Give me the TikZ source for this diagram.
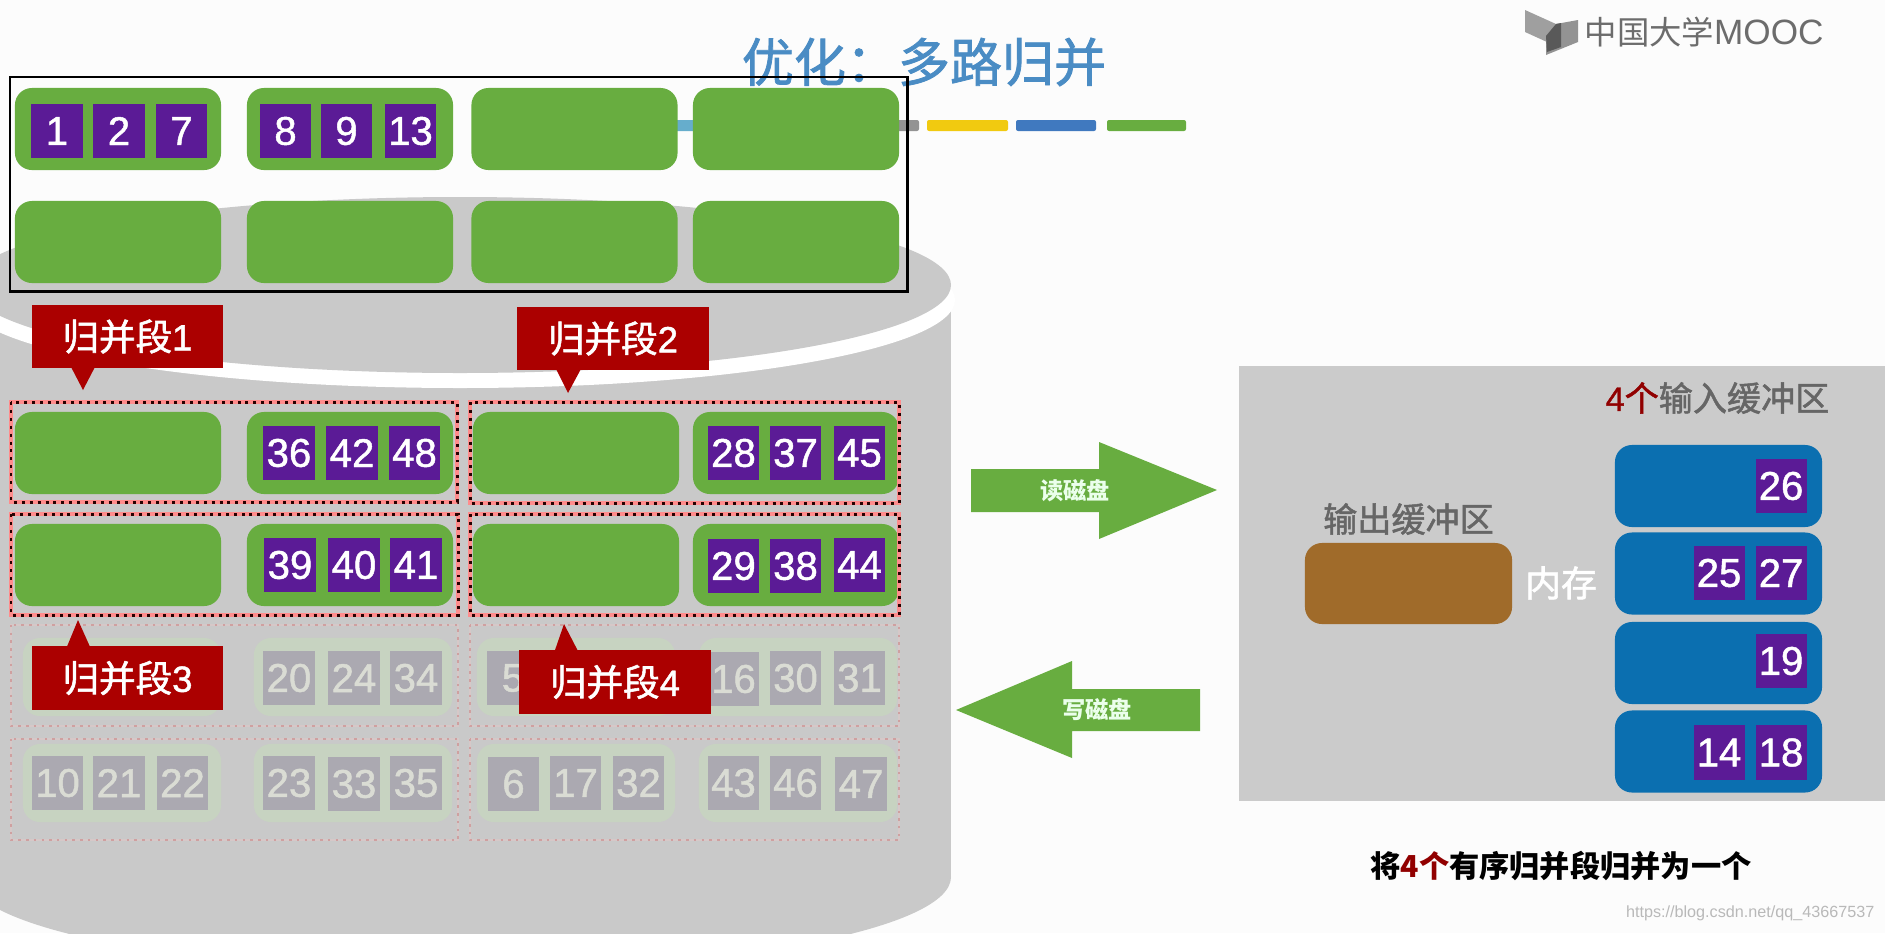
\documentclass[tikz,border=0pt]{standalone}
\usepackage{fontspec}
\setmainfont{Liberation Sans}
\newfontfamily\cjk{Noto Sans CJK SC}
\newfontfamily\cjkm[FakeBold=1.5]{Noto Sans CJK SC}
\newfontfamily\numf[FakeBold=1.2]{Liberation Sans}
\definecolor{diskgray}{HTML}{C9C9C9}
\definecolor{pgreen}{HTML}{68AD40}
\definecolor{ppurple}{HTML}{5B1B96}
\definecolor{fgreen}{HTML}{C7D3C1}
\definecolor{fsq}{HTML}{ABA9B1}
\definecolor{ftxt}{HTML}{DADCD4}
\definecolor{callred}{HTML}{AB0000}
\definecolor{memblue}{HTML}{0B6FB0}
\definecolor{brownbox}{HTML}{A06B2A}
\definecolor{titleblue}{HTML}{4A8CC4}
\definecolor{lblgray}{HTML}{666666}
\definecolor{fhalocol}{HTML}{D6C8C8}
\definecolor{fdotcol}{HTML}{CFA0A0}
\tikzset{
  gbox/.style={fill=pgreen,rounded corners=.17cm,minimum width=2.06cm,minimum height=.82cm,inner sep=0pt},
  fbox/.style={fill=fgreen,rounded corners=.17cm,minimum width=1.98cm,minimum height=.78cm,inner sep=0pt},
  bbox/.style={fill=memblue,rounded corners=.17cm,minimum width=2.07cm,minimum height=.82cm,inner sep=0pt},
  sqr/.style={fill=ppurple,text=white,minimum width=.51cm,minimum height=.54cm,inner sep=0pt,font=\numf\fontsize{11.4pt}{12pt}\selectfont},
  fsqr/.style={sqr,fill=fsq,text=ftxt},
  callout/.style={fill=callred,text=white,minimum width=1.91cm,minimum height=.63cm,inner sep=0pt,font=\numf\fontsize{10.4pt}{12pt}\selectfont},
  redhalo/.style={draw=red!45!white,line width=1.3pt},
  reddots/.style={draw=black!85!red,line width=.85pt,dash pattern=on .85pt off 1.4pt},
  fhalo/.style={draw=fhalocol,line width=.8pt},
  fdots/.style={draw=fdotcol,line width=.55pt,dash pattern=on .7pt off 1.5pt},
  lbl/.style={inner sep=0pt,text=lblgray,font=\cjkm\fontsize{9.7pt}{12pt}\selectfont},
  arrowtxt/.style={inner sep=0pt,text=white!92!green,font=\cjk\bfseries\fontsize{6.6pt}{8pt}\selectfont},
  smallbar/.style={rounded corners=.02cm}
}
\newcommand{\gb}[3]{\node[gbox] (#1) at (#2,#3) {};}
\newcommand{\fb}[3]{\node[fbox] (#1) at (#2,#3) {};}
\newcommand{\sq}[4]{\node[sqr] (#1) at (#2,#3) {#4};}
\newcommand{\fs}[4]{\node[fsqr] (#1) at (#2,#3) {#4};}
\newcommand{\dotbox}[4]{\draw[redhalo] (#1,#2) rectangle (#3,#4);\draw[reddots] (#1,#2) rectangle (#3,#4);}
\newcommand{\fdotbox}[4]{\draw[fhalo] (#1,#2) rectangle (#3,#4);\draw[fdots] (#1,#2) rectangle (#3,#4);}
\begin{document}
\begin{tikzpicture}[x=.01cm,y=-.01cm]
\useasboundingbox (0,0) rectangle (1885,933);
\clip (0,0) rectangle (1885,933);
\fill[white!99!black] (0,0) rectangle (1885,933);
% disk
\fill[diskgray] (-31,300) rectangle (951,877);
\fill[diskgray] (460,877) ellipse[x radius=491,y radius=94];
\fill[white] (460,300) ellipse[x radius=495,y radius=88];
\fill[diskgray] (460,285) ellipse[x radius=491,y radius=88];
% title and bars
\node[inner sep=0pt,text=titleblue,font=\cjkm\fontsize{14.8pt}{16pt}\selectfont] (title) at (924,62) {优化：多路归并};
\fill[smallbar,fill=blue!30!cyan!50!gray!80!white] (665,120) rectangle (705,131);
\fill[smallbar,fill=gray!85] (885,120) rectangle (919,131);
\fill[smallbar,fill=yellow!70!orange!95!black] (927,120) rectangle (1008,131);
\fill[smallbar,fill=blue!55!cyan!50!gray] (1016,120) rectangle (1096,131);
\fill[smallbar,fill=pgreen] (1107,120) rectangle (1186,131);
% logo
\fill[gray!75] (1525,10) -- (1556,24) -- (1547,42) -- (1525,32) -- cycle;
\fill[gray!85] (1578,20) -- (1578,42) -- (1546,55) -- (1546,36) -- (1556,24) -- cycle;
\fill[gray!70!black] (1556,24) -- (1561,23) -- (1561,47) -- (1547,52) -- (1546,36) -- cycle;
\node[inner sep=0pt,anchor=west,text=gray!85!black,font=\fontsize{10pt}{12pt}\selectfont] (logo) at (1584,32) {{\cjk\fontsize{9.2pt}{12pt}\selectfont 中国大学}MOOC};
% rows 1,2
\gb{a1}{118}{129}\gb{a2}{350}{129}\gb{a3}{574.5}{129}\gb{a4}{796}{129}
\gb{b1}{118}{242}\gb{b2}{350}{242}\gb{b3}{574.5}{242}\gb{b4}{796}{242}
\sq{s1}{57}{131}{1}\sq{s2}{119}{131}{2}\sq{s7}{181.5}{131}{7}
\sq{s8}{285.5}{131}{8}\sq{s9}{346.5}{131}{9}\sq{s13}{410.5}{131}{13}
\draw[black,line width=.85pt] (10,77) rectangle (907,291);
% rows 3,4
\gb{c1}{118}{453}\gb{c2}{350}{453}\gb{c3}{576}{453}\gb{c4}{796}{453}
\gb{d1}{118}{565}\gb{d2}{350}{565}\gb{d3}{576}{565}\gb{d4}{796}{565}
\sq{s36}{289}{453}{36}\sq{s42}{352}{453}{42}\sq{s48}{414.5}{453}{48}
\sq{s28}{733.5}{453}{28}\sq{s37}{795.5}{453}{37}\sq{s45}{859.5}{453}{45}
\sq{s39}{290}{565}{39}\sq{s40}{354}{565}{40}\sq{s41}{416}{565}{41}
\sq{s29}{733.5}{566}{29}\sq{s38}{795.5}{566}{38}\sq{s44}{859.5}{565}{44}
% faded rows
\fb{e1}{122}{677}\fb{e2}{353}{677}\fb{e3}{576}{677}\fb{e4}{798}{677}
\fb{f1}{122}{783}\fb{f2}{353}{783}\fb{f3}{576}{783}\fb{f4}{798}{783}
\fs{s20}{289}{678}{20}\fs{s24}{354}{678}{24}\fs{s34}{416}{678}{34}
\fs{s5}{513}{678}{5}\fs{s16}{733.5}{679}{16}\fs{s30}{795.5}{678}{30}\fs{s31}{859.5}{678}{31}
\fs{s10}{57.5}{783}{10}\fs{s21}{119}{783}{21}\fs{s22}{182.5}{783}{22}
\fs{s23}{289}{783}{23}\fs{s33}{354}{784}{33}\fs{s35}{416}{783}{35}
\fs{s6}{513.5}{784}{6}\fs{s17}{575.5}{783}{17}\fs{s32}{638.5}{783}{32}
\fs{s43}{733.5}{783}{43}\fs{s46}{795.5}{783}{46}\fs{s47}{861}{784}{47}
% dotted outlines
\fdotbox{11}{625}{458}{726}\fdotbox{470}{625}{899}{726}
\fdotbox{11}{739}{458}{840}\fdotbox{470}{739}{899}{840}
\dotbox{11}{402}{457}{502}\dotbox{470}{402}{899}{503}
\dotbox{11}{514}{458}{615}\dotbox{470}{514}{899}{615}
% callouts
\fill[callred] (70,365) -- (83,390) -- (96,365) -- cycle;
\node[callout] (c1txt) at (127.5,336.5) {{\cjkm 归并段}1};
\fill[callred] (555,367) -- (568,393) -- (582,367) -- cycle;
\node[callout] (c2txt) at (613,338.5) {{\cjkm 归并段}2};
\fill[callred] (66,649) -- (78,620) -- (91,649) -- cycle;
\node[callout] (c3txt) at (127.5,678) {{\cjkm 归并段}3};
\fill[callred] (554,653) -- (564,624) -- (579,653) -- cycle;
\node[callout] (c4txt) at (615,682) {{\cjkm 归并段}4};
% arrows
\fill[pgreen] (971,469) -- (1099,469) -- (1099,442) -- (1217,490) -- (1099,539) -- (1099,512) -- (971,512) -- cycle;
\node[arrowtxt] (rd) at (1075,491) {读磁盘};
\fill[pgreen] (1200,689) -- (1072,689) -- (1072,661) -- (956,710) -- (1072,758) -- (1072,731) -- (1200,731) -- cycle;
\node[arrowtxt] (wr) at (1097,710) {写磁盘};
% memory panel
\fill[diskgray!97!white] (1239,366) rectangle (1885,801);
\node[fill=brownbox,rounded corners=.17cm,minimum width=2.07cm,minimum height=.81cm,inner sep=0pt] (out) at (1408.5,583.5) {};
\node[lbl] (outlbl) at (1408.5,519) {输出缓冲区};
\node[inner sep=0pt,text=white,font=\cjkm\fontsize{10.2pt}{12pt}\selectfont] (mem) at (1561,583) {内存};
\node[lbl,anchor=east] (inlbl) at (1830,398) {\textcolor{callred!85!black}{{\numf 4}{\cjkm 个}}输入缓冲区};
\node[bbox] (m1) at (1718.5,486) {};
\node[bbox] (m2) at (1718.5,573.5) {};
\node[bbox] (m3) at (1718.5,663) {};
\node[bbox] (m4) at (1718.5,751.5) {};
\sq{s26}{1781}{486}{26}
\sq{s25}{1719}{573}{25}\sq{s27}{1781}{573}{27}
\sq{s19}{1781}{661}{19}
\sq{s14}{1719}{752.5}{14}\sq{s18}{1781}{752.5}{18}
\node[inner sep=0pt,text=black,font=\cjk\bfseries\fontsize{8.6pt}{12pt}\selectfont] (cap) at (1561,866) {将\textcolor{callred!85!black}{4个}有序归并段归并为一个};
\node[inner sep=0pt,anchor=east,text=gray!55!white,font=\fontsize{4.6pt}{6pt}\selectfont] (wm) at (1875,913) {https://blog.csdn.net/qq\_43667537};
\end{tikzpicture}
\end{document}
